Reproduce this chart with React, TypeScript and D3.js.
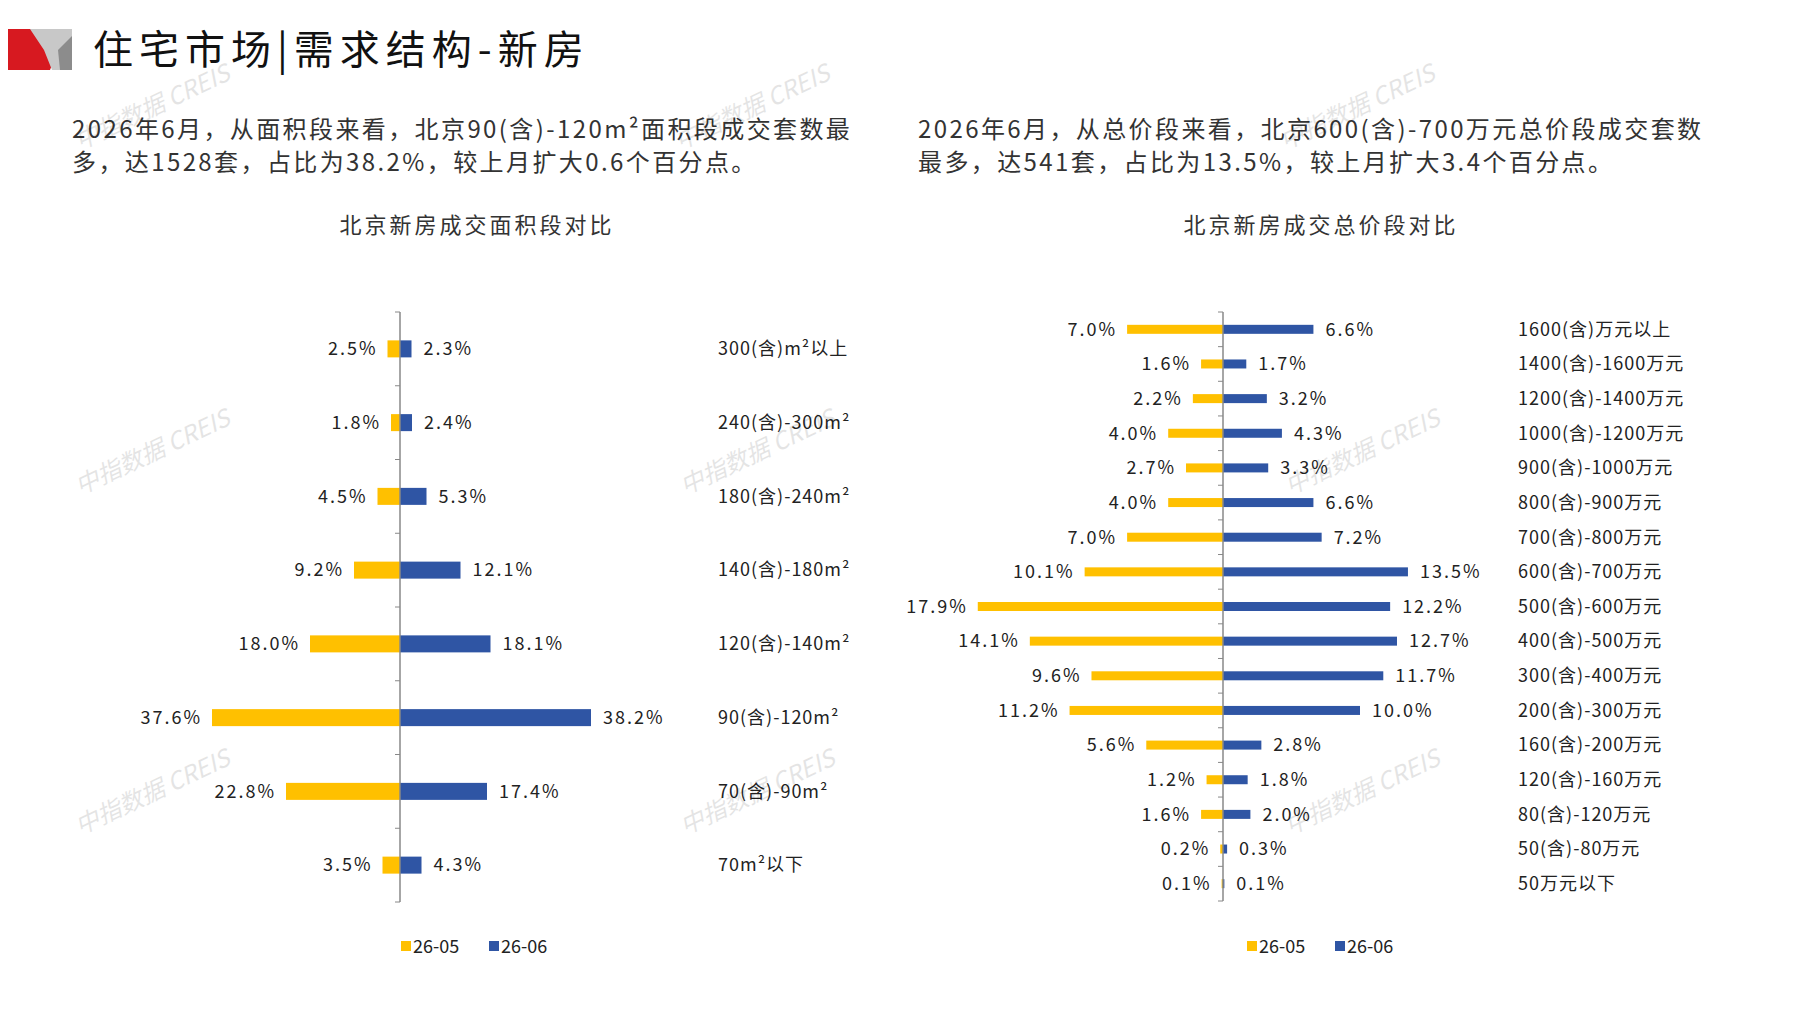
import { useEffect, useRef } from "react";
import * as d3 from "d3";

// area segments (top to bottom)
const areaCats = ["300(含)m²以上", "240(含)-300m²", "180(含)-240m²", "140(含)-180m²", "120(含)-140m²", "90(含)-120m²", "70(含)-90m²", "70m²以下"];
const areaPrev = [2.5, 1.8, 4.5, 9.2, 18.0, 37.6, 22.8, 3.5];
const areaCur = [2.3, 2.4, 5.3, 12.1, 18.1, 38.2, 17.4, 4.3];

// total price segments (top to bottom)
const priceCats = ["1600(含)万元以上", "1400(含)-1600万元", "1200(含)-1400万元", "1000(含)-1200万元", "900(含)-1000万元", "800(含)-900万元", "700(含)-800万元", "600(含)-700万元", "500(含)-600万元", "400(含)-500万元", "300(含)-400万元", "200(含)-300万元", "160(含)-200万元", "120(含)-160万元", "80(含)-120万元", "50(含)-80万元", "50万元以下"];
const pricePrev = [7.0, 1.6, 2.2, 4.0, 2.7, 4.0, 7.0, 10.1, 17.9, 14.1, 9.6, 11.2, 5.6, 1.2, 1.6, 0.2, 0.1];
const priceCur = [6.6, 1.7, 3.2, 4.3, 3.3, 6.6, 7.2, 13.5, 12.2, 12.7, 11.7, 10.0, 2.8, 1.8, 2.0, 0.3, 0.1];

const seriesNames = ["26-05", "26-06"];
const YELLOW = "#FFC000";
const BLUE = "#2F55A4";
const FONT = "'Noto Sans CJK SC', sans-serif";

function drawChart(svg: any, opts: any) {
  const { cats, prev, cur, axisX, top, bottom, pxPer, barH, labelX, title, titleX, legendX } = opts;
  const g = svg.append("g");
  const y = d3.scaleBand().domain(cats).range([top, bottom]);
  const xl = d3.scaleLinear().domain([0, 1]).range([axisX, axisX - pxPer]);
  const xr = d3.scaleLinear().domain([0, 1]).range([axisX, axisX + pxPer]);

  g.append("text").attr("x", titleX).attr("y", 233).attr("text-anchor", "middle")
    .style("font-size", "22px").style("letter-spacing", "3px").attr("fill", "#333").text(title);

  const rows = g.selectAll(".row").data(cats).enter().append("g");
  rows.append("rect")
    .attr("x", (_: any, i: number) => xl(prev[i]))
    .attr("y", (d: string) => y(d)! + y.bandwidth() / 2 - barH / 2)
    .attr("width", (_: any, i: number) => axisX - xl(prev[i]))
    .attr("height", barH).attr("fill", YELLOW);
  rows.append("rect")
    .attr("x", axisX)
    .attr("y", (d: string) => y(d)! + y.bandwidth() / 2 - barH / 2)
    .attr("width", (_: any, i: number) => xr(cur[i]) - axisX)
    .attr("height", barH).attr("fill", BLUE);
  rows.append("text")
    .attr("x", (_: any, i: number) => xl(prev[i]) - 10)
    .attr("y", (d: string) => y(d)! + y.bandwidth() / 2)
    .attr("dy", "0.35em").attr("text-anchor", "end")
    .style("font-size", "18px").style("letter-spacing", "2px").attr("fill", "#222")
    .text((_: any, i: number) => prev[i].toFixed(1) + "%");
  rows.append("text")
    .attr("x", (_: any, i: number) => xr(cur[i]) + 12)
    .attr("y", (d: string) => y(d)! + y.bandwidth() / 2)
    .attr("dy", "0.35em")
    .style("font-size", "18px").style("letter-spacing", "2px").attr("fill", "#222")
    .text((_: any, i: number) => cur[i].toFixed(1) + "%");
  rows.append("text")
    .attr("x", labelX)
    .attr("y", (d: string) => y(d)! + y.bandwidth() / 2)
    .attr("dy", "0.35em")
    .style("font-size", "18px").style("letter-spacing", "1px").attr("fill", "#222")
    .text((d: string) => d);

  // axis with tick marks at band boundaries
  g.append("line").attr("x1", axisX).attr("x2", axisX).attr("y1", top).attr("y2", bottom)
    .attr("stroke", "#888").attr("stroke-width", 1.5);
  const bounds = cats.map((d: string) => y(d)!).concat([bottom]);
  g.selectAll(".tk").data(bounds).enter().append("line")
    .attr("x1", axisX - 5).attr("x2", axisX).attr("y1", (d: number) => d).attr("y2", (d: number) => d)
    .attr("stroke", "#888");

  // legend
  const lg = g.append("g").attr("transform", `translate(${legendX},947)`);
  seriesNames.forEach((n, i) => {
    const off = i * 88;
    lg.append("rect").attr("x", off).attr("y", -6).attr("width", 10).attr("height", 10)
      .attr("fill", i === 0 ? YELLOW : BLUE);
    lg.append("text").attr("x", off + 12).attr("y", 0).attr("dy", "0.35em")
      .style("font-size", "18px").attr("fill", "#222").text(n);
  });
}

export default function App() {
  const ref = useRef<SVGSVGElement>(null);
  useEffect(() => {
    const svg = d3.select(ref.current);
    svg.selectAll("*").remove();
    svg.style("font-family", FONT);

    // header logo
    svg.append("polygon").attr("points", "0,29 50,29 58,50 50,70 0,70").attr("fill", "#D71920");
    svg.append("polygon").attr("points", "30,29 72,29 72,70 52,70 44,50").attr("fill", "#C8C8C8");
    svg.append("polygon").attr("points", "58,50 72,36 72,70 60,70").attr("fill", "#8C8C8C");
    svg.append("text").attr("x", 93).attr("y", 64).style("font-size", "40px").attr("fill", "#111")
      .style("letter-spacing", "6px").text("住宅市场|需求结构-新房");

    const para = [
      [72, ["2026年6月，从面积段来看，北京90(含)-120m²面积段成交套数最", "多，达1528套，占比为38.2%，较上月扩大0.6个百分点。"]],
      [918, ["2026年6月，从总价段来看，北京600(含)-700万元总价段成交套数", "最多，达541套，占比为13.5%，较上月扩大3.4个百分点。"]],
    ] as [number, string[]][];
    para.forEach(([x, lines]) => {
      lines.forEach((l, i) => {
        svg.append("text").attr("x", x).attr("y", 138 + i * 33).style("font-size", "24px")
          .style("letter-spacing", "2.4px").attr("fill", "#333").text(l);
      });
    });

    drawChart(svg, {
      cats: areaCats, prev: areaPrev, cur: areaCur, axisX: 400, top: 312, bottom: 902,
      pxPer: 5.0, barH: 17, labelX: 718, title: "北京新房成交面积段对比", titleX: 477, legendX: 401,
    });
    drawChart(svg, {
      cats: priceCats, prev: pricePrev, cur: priceCur, axisX: 1223, top: 312, bottom: 901,
      pxPer: 13.7, barH: 9, labelX: 1518, title: "北京新房成交总价段对比", titleX: 1321, legendX: 1247,
    });

    // watermarks
    const wm = [[80, 150], [680, 150], [1285, 150], [80, 495], [685, 495], [1290, 495], [80, 835], [685, 835], [1290, 835]];
    wm.forEach(([x, yy]) => {
      svg.append("text").attr("transform", `translate(${x},${yy}) rotate(-25)`)
        .style("font-size", "24px").attr("fill", "#000").attr("opacity", 0.1)
        .style("font-style", "italic").text("中指数据 CREIS");
    });
  }, []);
  return <svg ref={ref} width={1797} height={1010} style={{ display: "block", margin: -8, background: "#fff" }} />;
}
